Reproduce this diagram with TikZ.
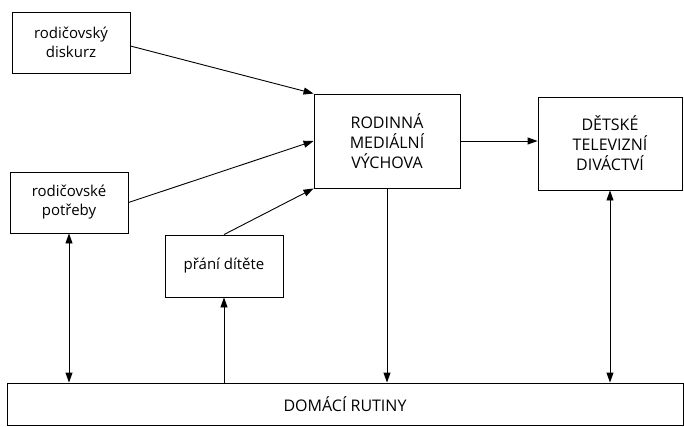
\documentclass[tikz,border=0pt]{standalone}
\usepackage{fontspec}
\setmainfont{Open Sans}
\usetikzlibrary{arrows.meta}

\begin{document}
\begin{tikzpicture}[x=1pt,y=-1pt,line width=0.9pt,
  box/.style={draw,rectangle,align=center,inner sep=0pt,font=\fontsize{15}{19}\selectfont},
  bigbox/.style={box,font=\fontsize{16}{20}\selectfont},
  arr/.style={-{Triangle[length=10pt,width=7pt]}},
  darr/.style={{Triangle[length=10pt,width=7pt]}-{Triangle[length=10pt,width=7pt]}}]

\useasboundingbox (0,0) rectangle (684,426);

\begin{scope}

%boxes
\node[box,minimum width=118pt,minimum height=61pt] at (71, 42.5) (disk) {rodičovský\\diskurz};
\node[box,minimum width=118pt,minimum height=61pt] at (69, 202.5) (potr) {rodičovské\\potřeby};
\node[box,minimum width=118pt,minimum height=62pt] at (224, 266) (prani) {přání dítěte};
\node[bigbox,minimum width=146pt,minimum height=94pt] at (387, 141) (rod) {RODINNÁ\\MEDIÁLNÍ\\VÝCHOVA};
\node[bigbox,minimum width=144pt,minimum height=93pt] at (610, 143.5) (det) {DĚTSKÉ\\TELEVIZNÍ\\DIVÁCTVÍ};
\node[bigbox,minimum width=676pt,minimum height=42pt] at (345, 404) (dom) {DOMÁCÍ RUTINY};

%arrows
\draw[arr] (disk.east) ++(0,3.5) -- (rod.north west);
\draw[arr] (potr.east) -- (rod.west);
\draw[arr] (prani.north) -- (rod.south west);
\draw[arr] (rod.east) -- (rod.east -| det.west);
\draw[arr] (rod.south) -- (rod.south |- dom.north);
\draw[arr] (prani.south |- dom.north) -- (prani.south);
\draw[darr] (potr.south) -- (potr.south |- dom.north);
\draw[darr] (det.south) -- (det.south |- dom.north);

\end{scope}

\end{tikzpicture}
\end{document}
